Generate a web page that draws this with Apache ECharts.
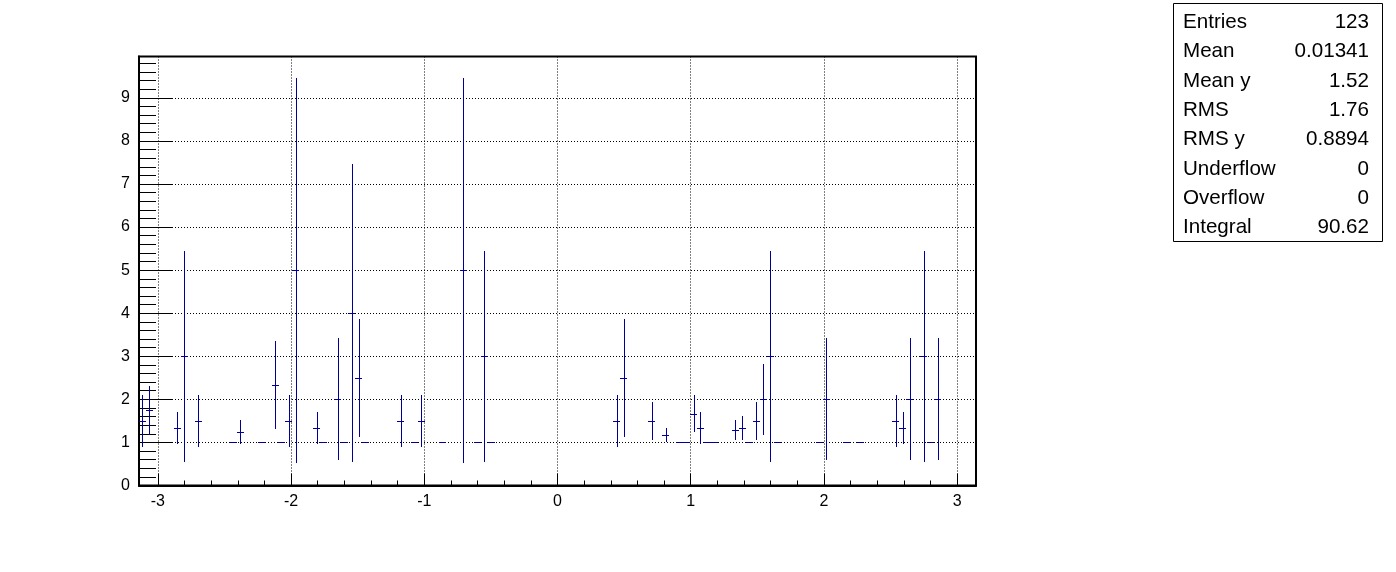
<!DOCTYPE html>
<html>
<head>
<meta charset="utf-8">
<script src="https://cdn.jsdelivr.net/npm/echarts@6/dist/echarts.min.js"></script>
<style>
html,body{margin:0;padding:0;background:#fff;}
#chart{width:1396px;height:572px;}
</style>
</head>
<body>
<div id="chart"></div>
<script>
// Profile histogram: 120 bins over [-pi, pi]
const nBins = 120;
const xMin = -Math.PI;
const xMax = Math.PI;
const yMax = 9.96;

// filled bins (0-based bin index), bin mean, bin error
const binIndex = [0, 1, 5, 6, 8, 13, 14, 17, 19, 20, 21, 22, 25, 26, 28, 29, 30, 31, 32, 37, 39, 40, 43, 46, 48, 49, 50,
                  68, 69, 73, 75, 77, 78, 79, 80, 81, 82, 85, 86, 87, 88, 89, 90, 91, 97, 98, 101, 103, 108, 109, 110, 112, 113, 114];
const binMean = [1.5, 1.75, 1.333, 3, 1.5, 1, 1.25, 1, 2.333, 1, 1.5, 5, 1.333, 1, 2, 1, 4, 2.5, 1, 1.5, 1, 1.5, 1, 5, 1, 3, 1,
                 1.5, 2.5, 1.5, 1.167, 1, 1, 1.667, 1.333, 1, 1, 1.29, 1.333, 1, 1.5, 2, 3, 1, 1, 2, 1, 1, 1.5, 1.333, 2, 3, 1, 2];
const binError = [0.6, 0.57, 0.375, 2.449, 0.6, 0, 0.28, 0, 1.03, 0, 0.6, 4.47, 0.375, 0, 1.414, 0, 3.46, 1.37, 0, 0.6, 0, 0.6, 0, 4.47, 0, 2.449, 0,
                  0.6, 1.37, 0.44, 0.167, 0, 0, 0.43, 0.375, 0, 0, 0.24, 0.28, 0, 0.44, 0.82, 2.449, 0, 0, 1.414, 0, 0, 0.6, 0.375, 1.414, 2.449, 0, 1.414];

const statNames = ['Entries', 'Mean', 'Mean y', 'RMS', 'RMS y', 'Underflow', 'Overflow', 'Integral'];
const statValues = ['123', '0.01341', '1.52', '1.76', '0.8894', '0', '0', '90.62'];

const binWidth = (xMax - xMin) / nBins;
const data = binIndex.map((b, i) => [xMin + (b + 0.5) * binWidth, binMean[i], binError[i]]);

const lineColor = '#000099';
const FONT = "'Liberation Sans', Arial, Helvetica, sans-serif";

const chart = echarts.init(document.getElementById('chart'), null, {renderer: 'canvas'});

const statGraphics = [{
  type: 'rect',
  shape: {x: 1173.5, y: 3.5, width: 209, height: 238},
  style: {fill: '#fff', stroke: '#000', lineWidth: 1},
  z: 10
}];
statNames.forEach((n, i) => {
  const yc = 22.5 + i * 29.3;
  statGraphics.push({
    type: 'text', x: 1183, y: yc, z: 11,
    style: {text: n, font: '20.6px ' + FONT, fill: '#000', textAlign: 'left', textVerticalAlign: 'middle'}
  });
  statGraphics.push({
    type: 'text', x: 1369, y: yc, z: 11,
    style: {text: statValues[i], font: '20.6px ' + FONT, fill: '#000', textAlign: 'right', textVerticalAlign: 'middle'}
  });
});

const option = {
  backgroundColor: '#fff',
  animation: false,
  grid: {
    left: 139, right: 420, top: 56.5, bottom: 86.5,
    show: true, borderColor: '#000', borderWidth: 2, backgroundColor: 'transparent'
  },
  xAxis: {
    type: 'value', min: xMin, max: xMax, splitNumber: 5,
    axisLine: {show: true, onZero: false, lineStyle: {color: '#000', width: 2}},
    axisTick: {show: true, inside: true, length: 12, lineStyle: {color: '#000', width: 1}},
    minorTick: {show: true, splitNumber: 5, length: 5, lineStyle: {color: '#000', width: 1}},
    axisLabel: {show: true, showMinLabel: false, showMaxLabel: false, margin: 8, color: '#000', fontSize: 16, fontFamily: FONT},
    splitLine: {show: true, lineStyle: {color: '#000', width: 1, type: [1, 2]}},
    minorSplitLine: {show: false}
  },
  yAxis: {
    type: 'value', min: 0, max: yMax, interval: 1,
    axisLine: {show: true, onZero: false, lineStyle: {color: '#000', width: 2}},
    axisTick: {show: true, inside: true, length: 33, lineStyle: {color: '#000', width: 1}},
    minorTick: {show: true, splitNumber: 5, length: 17, lineStyle: {color: '#000', width: 1}},
    axisLabel: {show: true, showMaxLabel: false, margin: 9, color: '#000', fontSize: 16, fontFamily: FONT},
    splitLine: {show: true, lineStyle: {color: '#000', width: 1, type: [1, 2]}}
  },
  series: [{
    type: 'custom',
    clip: true,
    data: data,
    renderItem: function (params, api) {
      const x = api.value(0), y = api.value(1), e = api.value(2);
      const c = api.coord([x, y]);
      const half = api.size([binWidth, 0])[0] / 2;
      const cx = Math.round(c[0]) + 0.5;
      const cy = Math.round(c[1]) + 0.5;
      const style = {stroke: lineColor, lineWidth: 1};
      const children = [{
        type: 'line',
        shape: {x1: Math.round(c[0] - half), y1: cy, x2: Math.round(c[0] + half), y2: cy},
        style: style
      }];
      if (e > 0) {
        const top = api.coord([x, y + e]);
        const bot = api.coord([x, y - e]);
        children.push({
          type: 'line',
          shape: {x1: cx, y1: Math.round(top[1]), x2: cx, y2: Math.round(bot[1])},
          style: style
        });
      }
      return {type: 'group', children: children};
    },
    z: 5
  }],
  graphic: statGraphics
};
chart.setOption(option);
</script>
</body>
</html>
